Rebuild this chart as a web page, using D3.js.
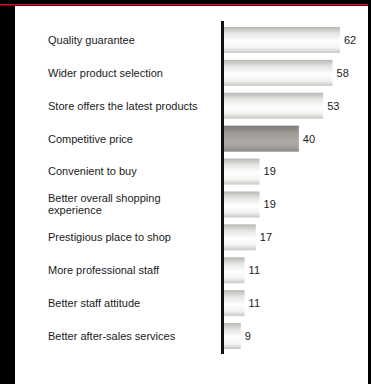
<!DOCTYPE html>
<html>
<head>
<meta charset="utf-8">
<script src="https://cdn.jsdelivr.net/npm/d3@7"></script>
<style>
  html, body { margin: 0; padding: 0; background: #000; }
  svg { display: block; }
  text { font-family: "Liberation Sans", Arial, sans-serif; fill: #1a1a1a; }
</style>
</head>
<body>
<svg id="chart" width="371" height="384"></svg>
<script>
// reasons for choosing the store, % of respondents
const labels = [
  ['Quality guarantee'],
  ['Wider product selection'],
  ['Store offers the latest products'],
  ['Competitive price'],
  ['Convenient to buy'],
  ['Better overall shopping', 'experience'],
  ['Prestigious place to shop'],
  ['More professional staff'],
  ['Better staff attitude'],
  ['Better after-sales services']
];
const values = [62, 58, 53, 40, 19, 19, 17, 11, 11, 9];
const highlight = [false, false, false, true, false, false, false, false, false, false];

const rows = values.map((v, i) => ({ i, v, label: labels[i], hi: highlight[i] }));

const svg = d3.select('#chart');

// frame: white panel inside black border, red rule on top
svg.append('rect').attr('x', 0).attr('y', 0).attr('width', 371).attr('height', 384).attr('fill', '#000');
svg.append('rect').attr('x', 15).attr('y', 6).attr('width', 353).attr('height', 378).attr('fill', '#fff');
svg.append('rect').attr('x', 0).attr('y', 4).attr('width', 368).attr('height', 1.6).attr('fill', '#c8102e');

// gradients
const defs = svg.append('defs');
function grad(id, stops) {
  const g = defs.append('linearGradient').attr('id', id)
    .attr('x1', 0).attr('y1', 0).attr('x2', 0).attr('y2', 1);
  stops.forEach(([o, c]) => g.append('stop').attr('offset', o).attr('stop-color', c));
}
grad('barLight', [[0, '#b9b7b3'], [0.25, '#e6e5e3'], [0.55, '#ffffff'], [0.8, '#f4f3f2'], [1, '#c9c7c3']]);
grad('barDark', [[0, '#7e7a75'], [0.3, '#9e9a95'], [0.6, '#aeaaa5'], [0.85, '#a29e99'], [1, '#8a8681']]);

const x = d3.scaleLinear().domain([0, 62]).range([224, 340]);
const y = d3.scaleBand().domain(rows.map(d => d.i)).range([23.5, 352.5])
  .paddingInner(0.21).paddingOuter(0.105);

// bars
svg.append('g').selectAll('rect')
  .data(rows)
  .join('rect')
  .attr('x', x(0))
  .attr('y', d => y(d.i))
  .attr('width', d => x(d.v) - x(0))
  .attr('height', y.bandwidth())
  .attr('fill', d => d.hi ? 'url(#barDark)' : 'url(#barLight)');

// value labels
svg.append('g').selectAll('text')
  .data(rows)
  .join('text')
  .attr('x', d => x(d.v) + 4)
  .attr('y', d => y(d.i) + y.bandwidth() / 2)
  .attr('dy', '0.35em')
  .attr('font-size', 11)
  .text(d => d.v);

// category labels (one or two lines)
const cat = svg.append('g').selectAll('text')
  .data(rows)
  .join('text')
  .attr('x', 48)
  .attr('font-size', 11);
cat.each(function(d) {
  const t = d3.select(this);
  const cy = y(d.i) + y.bandwidth() / 2;
  const lh = 12;
  d.label.forEach((s, k) => {
    t.append('tspan')
      .attr('x', 48)
      .attr('y', cy + (k - (d.label.length - 1) / 2) * lh)
      .attr('dy', '0.35em')
      .text(s);
  });
});

// axis line
svg.append('line')
  .attr('x1', x(0) - 1.5).attr('x2', x(0) - 1.5)
  .attr('y1', 21).attr('y2', 354)
  .attr('stroke', '#111').attr('stroke-width', 3);
</script>
</body>
</html>
